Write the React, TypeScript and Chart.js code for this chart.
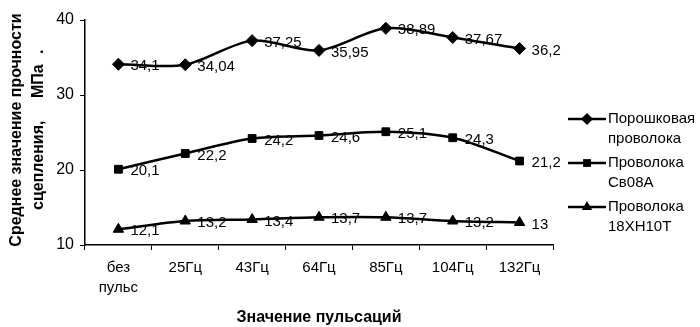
import React, { useEffect, useRef } from "react";
import { Chart, registerables } from "chart.js";

Chart.register(...registerables);

const categories: (string | string[])[] = [["без", "пульс"], "25Гц", "43Гц", "64Гц", "85Гц", "104Гц", "132Гц"];
const powderWire = [34.1, 34.04, 37.25, 35.95, 38.89, 37.67, 36.2];
const wireSv08A = [20.1, 22.2, 24.2, 24.6, 25.1, 24.3, 21.2];
const wire18 = [12.1, 13.2, 13.4, 13.7, 13.7, 13.2, 13];
const seriesNames: string[][] = [["Порошковая", "проволока"], ["Проволока", "Св08А"], ["Проволока", "18ХН10Т"]];
const seriesMarkers = ["rectRot", "rect", "triangle"];
const yTitleLine1 = "Среднее значение прочности";
const yTitleLine2 = ["сцепления,", "МПа", "."];
const xTitle = "Значение пульсаций";

const FONT = "'Liberation Sans', Arial, sans-serif";

const fmt = (v: number) => String(v).replace(".", ",");

function marker(ctx: CanvasRenderingContext2D, style: string, x: number, y: number, r: number) {
  ctx.beginPath();
  if (style === "rectRot") {
    ctx.moveTo(x - r, y);
    ctx.lineTo(x, y - r);
    ctx.lineTo(x + r, y);
    ctx.lineTo(x, y + r);
    ctx.closePath();
  } else if (style === "rect") {
    const s = r * Math.SQRT1_2;
    ctx.rect(x - s, y - s, 2 * s, 2 * s);
  } else {
    ctx.moveTo(x, y - r);
    ctx.lineTo(x + r * 0.866, y + r * 0.5);
    ctx.lineTo(x - r * 0.866, y + r * 0.5);
    ctx.closePath();
  }
  ctx.fill();
}

const labelsPlugin = {
  id: "customDraw",
  afterDatasetsDraw(chart: any) {
    const ctx = chart.ctx;
    ctx.save();
    ctx.fillStyle = "#000";
    ctx.font = `15px ${FONT}`;
    ctx.textBaseline = "middle";
    ctx.textAlign = "left";
    chart.data.datasets.forEach((ds: any, i: number) => {
      const meta = chart.getDatasetMeta(i);
      meta.data.forEach((pt: any, j: number) => {
        ctx.fillText(fmt(ds.data[j]), pt.x + 12, pt.y + 2);
      });
    });
    ctx.restore();
  },
  afterDraw(chart: any) {
    const ctx = chart.ctx;
    const area = chart.chartArea;
    ctx.save();
    ctx.fillStyle = "#000";
    // legend
    const legX = area.right + 15;
    const legY = [119, 163, 207];
    chart.data.datasets.forEach((ds: any, i: number) => {
      const y = legY[i];
      ctx.strokeStyle = "#000";
      ctx.lineWidth = 2.5;
      ctx.beginPath();
      ctx.moveTo(legX, y);
      ctx.lineTo(legX + 38, y);
      ctx.stroke();
      ctx.fillStyle = "#000";
      marker(ctx, seriesMarkers[i], legX + 19, y, ds.pointRadius);
      ctx.font = `15px ${FONT}`;
      ctx.textBaseline = "middle";
      ctx.textAlign = "left";
      seriesNames[i].forEach((t, k) => ctx.fillText(t, legX + 40, y + k * 20));
    });
    // x title
    ctx.font = `bold 16px ${FONT}`;
    ctx.textAlign = "center";
    ctx.textBaseline = "middle";
    ctx.fillText(xTitle, (area.left + area.right) / 2, 318);
    // y title
    ctx.translate(17, 130);
    ctx.rotate(-Math.PI / 2);
    ctx.fillText(yTitleLine1, 0, 0);
    ctx.textAlign = "left";
    ctx.fillText(yTitleLine2[0], -80, 22);
    ctx.fillText(yTitleLine2[1], 32, 22);
    ctx.fillText(yTitleLine2[2], 76, 22);
    ctx.restore();
  },
};

export default function App() {
  const ref = useRef<HTMLCanvasElement>(null);
  useEffect(() => {
    document.body.style.margin = "0";
    const mk = (data: number[], style: string, r: number) => ({
      data,
      borderColor: "#000",
      backgroundColor: "#000",
      borderWidth: 2.5,
      pointStyle: style,
      pointRadius: r,
      pointHoverRadius: r,
      pointBorderWidth: 1,
      pointBackgroundColor: "#000",
      pointBorderColor: "#000",
      tension: 0.3,
      fill: false,
    });
    const chart = new Chart(ref.current!, {
      type: "line",
      data: {
        labels: categories,
        datasets: [
          { label: "Порошковая проволока", ...mk(powderWire, "rectRot", 6) },
          { label: "Проволока Св08А", ...mk(wireSv08A, "rect", 5.5) },
          { label: "Проволока 18ХН10Т", ...mk(wire18, "triangle", 6) },
        ] as any,
      },
      options: {
        responsive: false,
        animation: false,
        layout: { padding: { left: 0, top: 20, right: 147, bottom: 0 } },
        plugins: { legend: { display: false }, tooltip: { enabled: false } },
        scales: {
          x: {
            offset: true,
            grid: { display: true, offset: true, drawOnChartArea: false, tickLength: 5, color: "#000", lineWidth: 1 },
            border: { display: true, color: "#000", width: 1.5 },
            ticks: { color: "#000", font: { family: FONT, size: 15, lineHeight: 1.33 }, padding: 8, maxRotation: 0, autoSkip: false },
            afterFit: (s: any) => { s.height = 82; },
          },
          y: {
            min: 10,
            max: 40,
            ticks: { stepSize: 10, color: "#000", font: { family: FONT, size: 16 }, padding: 6 },
            grid: { display: true, drawOnChartArea: false, tickLength: 5, color: "#000", lineWidth: 1 },
            border: { display: true, color: "#000", width: 1.5 },
            afterFit: (s: any) => { s.width = 85; },
          },
        },
      },
      plugins: [labelsPlugin],
    });
    return () => chart.destroy();
  }, []);
  return <canvas ref={ref} width={700} height={327} style={{ display: "block", width: 700, height: 327 }} />;
}
